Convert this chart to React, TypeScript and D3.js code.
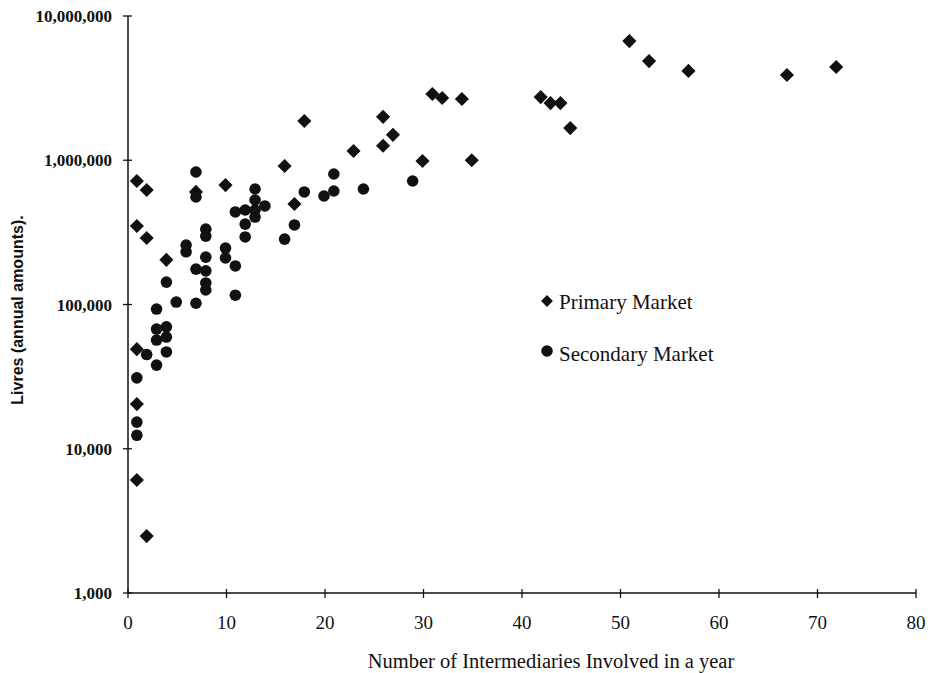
import { useEffect, useRef } from 'react';
import * as d3 from 'd3';

// number of intermediaries / livres
const primaryX = [1, 2, 1, 2, 4, 1, 1, 1, 2, 7, 10, 16, 17, 18, 23, 26, 26, 27, 30, 31, 32, 34, 35, 42, 43, 44, 45, 51, 53, 57, 67, 72];
const primaryY = [718000, 622000, 350000, 289000, 204000, 49000, 20400, 6070, 2480, 603000, 673000, 912000, 497000, 1870000, 1160000, 2000000, 1260000, 1500000, 988000, 2880000, 2700000, 2660000, 1000000, 2740000, 2490000, 2490000, 1670000, 6700000, 4870000, 4160000, 3900000, 4430000];

const secondaryX = [7, 7, 13, 11, 12, 13, 13, 13, 14, 12, 12, 8, 8, 6, 6, 8, 7, 8, 8, 8, 10, 10, 11, 11, 4, 5, 7, 3, 16, 17, 18, 20, 21, 21, 24, 29, 3, 4, 3, 4, 4, 3, 2, 1, 1, 1];
const secondaryY = [829000, 556000, 632000, 438000, 452000, 530000, 452000, 404000, 482000, 361000, 294000, 333000, 298000, 258000, 232000, 213000, 176000, 171000, 141000, 126000, 246000, 210000, 185000, 116000, 143000, 104000, 102000, 93000, 284000, 356000, 603000, 565000, 612000, 803000, 632000, 718000, 67600, 70000, 56700, 59500, 46900, 38000, 45000, 31000, 15300, 12400];

const xTicks = [0, 10, 20, 30, 40, 50, 60, 70, 80];
const yTicks = [1000, 10000, 100000, 1000000, 10000000];
const legendLabels = ['Primary Market', 'Secondary Market'];

const ScatterChart = () => {
  const ref = useRef(null);

  useEffect(() => {
    const svg = d3.select(ref.current);
    svg.selectAll('*').remove();

    const width = 928;
    const height = 673;
    svg.attr('width', width).attr('height', height);

    const x = d3.scaleLinear().domain([0, 80]).range([128, 916]);
    const y = d3.scaleLog().domain([1000, 10000000]).range([593, 16]);
    const ink = '#111';

    // axes
    svg.append('line')
      .attr('x1', x(0)).attr('x2', x(0))
      .attr('y1', y(10000000)).attr('y2', y(1000))
      .attr('stroke', ink).attr('stroke-width', 1.5);
    svg.append('line')
      .attr('x1', x(0)).attr('x2', x(80))
      .attr('y1', y(1000)).attr('y2', y(1000))
      .attr('stroke', ink).attr('stroke-width', 1.5);

    svg.selectAll('.ytick')
      .data(yTicks)
      .enter()
      .append('line')
      .attr('x1', x(0) - 5).attr('x2', x(0) + 4)
      .attr('y1', (d) => y(d)).attr('y2', (d) => y(d))
      .attr('stroke', ink).attr('stroke-width', 1.3);

    svg.selectAll('.ylabel')
      .data(yTicks)
      .enter()
      .append('text')
      .attr('x', x(0) - 16)
      .attr('y', (d) => y(d) + 6)
      .attr('text-anchor', 'end')
      .style('font-family', '"Liberation Serif", serif')
      .style('font-weight', 'bold')
      .style('font-size', '17px')
      .attr('fill', ink)
      .text((d) => d3.format(',')(d));

    svg.selectAll('.xtick')
      .data(xTicks)
      .enter()
      .append('line')
      .attr('x1', (d) => x(d)).attr('x2', (d) => x(d))
      .attr('y1', y(1000) - 4).attr('y2', y(1000) + 5)
      .attr('stroke', ink).attr('stroke-width', 1.3);

    svg.selectAll('.xlabel')
      .data(xTicks)
      .enter()
      .append('text')
      .attr('x', (d) => x(d))
      .attr('y', 629)
      .attr('text-anchor', 'middle')
      .style('font-family', '"Liberation Serif", serif')
      .style('font-size', '19px')
      .attr('fill', ink)
      .text((d) => d);

    svg.append('text')
      .attr('x', 551)
      .attr('y', 668)
      .attr('text-anchor', 'middle')
      .style('font-family', '"Liberation Serif", serif')
      .style('font-size', '20.5px')
      .attr('fill', ink)
      .text('Number of Intermediaries Involved in a year');

    svg.append('text')
      .attr('transform', 'translate(23,310) rotate(-90)')
      .attr('text-anchor', 'middle')
      .style('font-family', '"Liberation Sans", sans-serif')
      .style('font-weight', 'bold')
      .style('font-size', '16px')
      .attr('fill', ink)
      .text('Livres (annual amounts).');

    const diamond = d3.symbol().type(d3.symbolSquare).size(100);

    svg.selectAll('.sec')
      .data(secondaryX)
      .enter()
      .append('circle')
      .attr('cx', (d) => x(d) - 1)
      .attr('cy', (d, i) => y(secondaryY[i]))
      .attr('r', 5.8)
      .attr('fill', ink);

    svg.selectAll('.pri')
      .data(primaryX)
      .enter()
      .append('path')
      .attr('d', diamond)
      .attr('transform', (d, i) => `translate(${x(d) - 1},${y(primaryY[i])}) rotate(45)`)
      .attr('fill', ink);

    // legend
    const legend = svg.append('g');
    legend.append('path')
      .attr('d', d3.symbol().type(d3.symbolSquare).size(70))
      .attr('transform', 'translate(547,301) rotate(45)')
      .attr('fill', ink);
    legend.append('circle')
      .attr('cx', 547).attr('cy', 351).attr('r', 5.8)
      .attr('fill', ink);
    legend.selectAll('text')
      .data(legendLabels)
      .enter()
      .append('text')
      .attr('x', 559)
      .attr('y', (d, i) => 309 + i * 52)
      .style('font-family', '"Liberation Serif", serif')
      .style('font-size', '21px')
      .attr('fill', ink)
      .text((d) => d);
  }, []);

  return <svg ref={ref} style={{ position: 'absolute', left: 0, top: 0, background: '#fff' }}></svg>;
};

export default function App() {
  return <ScatterChart />;
}
